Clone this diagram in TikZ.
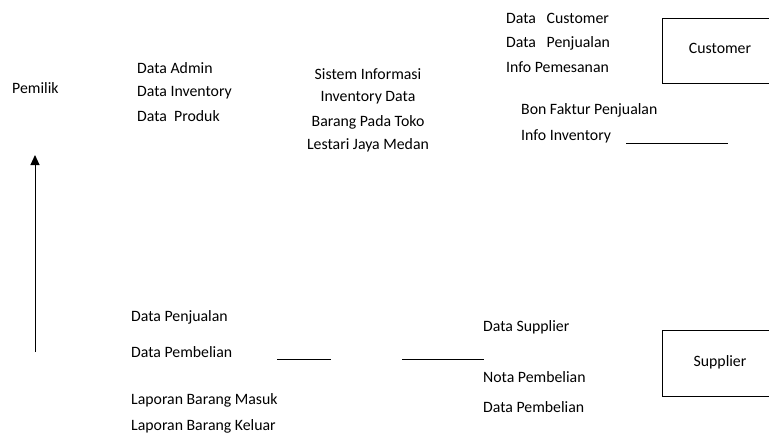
\documentclass[tikz,border=0pt]{standalone}
\usepackage{fontspec}
\setmainfont{Carlito}
\usetikzlibrary{arrows.meta}
\begin{document}
\begin{tikzpicture}[x=1pt,y=-1pt,
  lbl/.style={anchor=west,inner sep=0pt,font=\fontsize{15.8}{17}\selectfont},
  ctr/.style={anchor=center,inner sep=0pt,font=\fontsize{15.8}{17}\selectfont},
  entity/.style={draw,line width=0.8pt,inner sep=0pt},
  rule/.style={line width=0.8pt}]
\useasboundingbox (0,0) rectangle (769,432);
% Pemilik
\node[lbl] (pemilik) at (12,88) {Pemilik};
\node[lbl] (dadmin) at (137,68) {Data Admin};
\node[lbl] (dinv) at (137,93) {Data Inventory};
\node[lbl] (dprod) at (137,116) {Data\ \ Produk};
% System
\node[ctr] (s1) at (368,74) {Sistem Informasi};
\node[ctr] (s2) at (368,98) {Inventory Data};
\node[ctr] (s3) at (368,122) {Barang Pada Toko};
\node[ctr] (s4) at (368,145) {Lestari Jaya Medan};
% Customer side
\node[lbl] (dcust) at (506,18) {Data\ \ \ Customer};
\node[lbl] (dpenj) at (506,43) {Data\ \ \ Penjualan};
\node[lbl] (ipem) at (506,67) {Info Pemesanan};
\node[entity,minimum width=107pt,minimum height=65pt] (cust) at (716,50.5) {};
\node[ctr] (custt) at (720,48) {Customer};
\node[lbl] (bon) at (521,110) {Bon Faktur Penjualan};
\node[lbl] (iinv) at (521,136) {Info Inventory};
\coordinate (l1a) at (626,143);
\coordinate (l1b) at (728,143);
\draw[rule] (l1a) -- (l1b);
% Arrow
\coordinate (arrA) at (35,352);
\coordinate (arrB) at (35,155);
\draw[line width=1pt,-{Triangle[length=10pt,width=9pt]}] (arrA) -- (arrB);
% Bottom left
\node[lbl] (bpenj) at (131,317) {Data Penjualan};
\node[lbl] (bpemb) at (131,352) {Data Pembelian};
\node[lbl] (lmasuk) at (131,400) {Laporan Barang Masuk};
\node[lbl] (lkeluar) at (131,426) {Laporan Barang Keluar};
\coordinate (l2a) at (277,359);
\coordinate (l2b) at (331,359);
\draw[rule] (l2a) -- (l2b);
\coordinate (l3a) at (402,359);
\coordinate (l3b) at (484,359);
\draw[rule] (l3a) -- (l3b);
% Supplier side
\node[lbl] (dsup) at (483,327) {Data Supplier};
\node[lbl] (nota) at (483,377) {Nota Pembelian};
\node[lbl] (dpemb2) at (483,407) {Data Pembelian};
\node[entity,minimum width=107pt,minimum height=66pt] (sup) at (716,363) {};
\node[ctr] (supt) at (720,362) {Supplier};
\end{tikzpicture}
\end{document}
